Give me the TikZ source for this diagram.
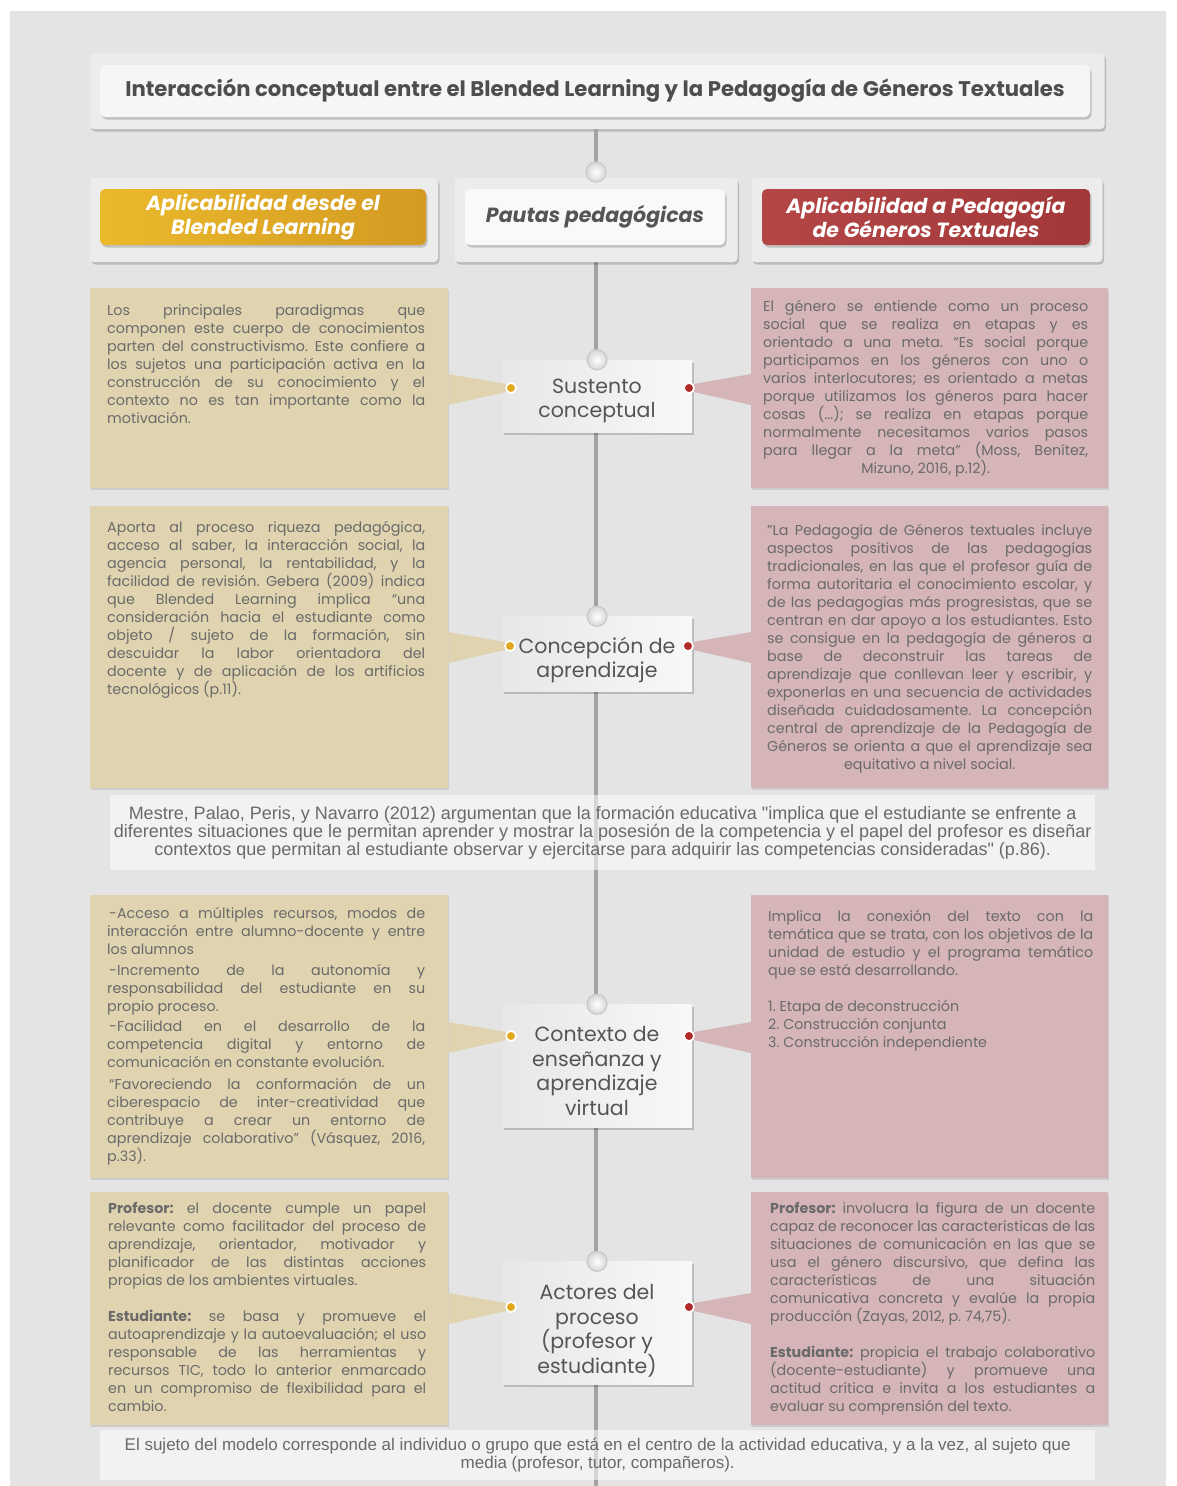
\documentclass[tikz,border=0pt]{standalone}
\usepackage{fontspec}
\setmainfont{Poppins}
\newfontfamily\condfont{Liberation Sans}
\usetikzlibrary{shadows,calc}

\definecolor{bg}{HTML}{E4E4E4}
\definecolor{panel}{HTML}{ECECEC}
\definecolor{spinegray}{HTML}{A3A3A3}
\definecolor{tanfill}{HTML}{E0D4B0}
\definecolor{rosefill}{HTML}{D5B5B8}
\definecolor{ink}{HTML}{6A6A6A}
\definecolor{titleink}{HTML}{4E4E4E}
\definecolor{stageink}{HTML}{555555}
\definecolor{goldA}{HTML}{EBB92C}
\definecolor{goldB}{HTML}{D49A22}
\definecolor{redA}{HTML}{B44646}
\definecolor{redB}{HTML}{A33838}
\definecolor{dotgold}{HTML}{E2A91E}
\definecolor{dotred}{HTML}{B22A2A}
\definecolor{stageL}{HTML}{E7E7E7}
\definecolor{stageR}{HTML}{F8F8F8}
\definecolor{junctionGray}{HTML}{D6D6D6}
\definecolor{junctionEdge}{HTML}{C9C9C9}

% one justified line, one plain line, one centred line
\newcommand{\jl}[1]{\makebox[\linewidth][s]{#1}\par}
\newcommand{\el}[1]{\mbox{#1}\par}
\newcommand{\cl}[1]{\makebox[\linewidth][c]{#1}\par}
\newcommand{\bodytext}{\fontsize{14.3}{18}\selectfont\frenchspacing\parindent=0pt\parskip=0pt}
\newcommand{\sq}{\char34}

\tikzset{
  softshadow/.style={drop shadow={shadow xshift=1.5pt, shadow yshift=-2.5pt, opacity=0.18, fill=black}},
  flatshadow/.style={drop shadow={shadow xshift=1pt, shadow yshift=-1.5pt, opacity=0.10, fill=black}},
  panelbox/.style={fill=panel, rounded corners=4pt, softshadow, inner sep=0},
  tanbox/.style={fill=tanfill, flatshadow, inner sep=0, anchor=north west, minimum width=358pt},
  rosebox/.style={fill=rosefill, flatshadow, inner sep=0, anchor=north west, minimum width=357pt},
  blocktext/.style={anchor=base west, inner sep=0, text=ink},
  headtext/.style={font=\fontsize{20.5}{24}\selectfont\bfseries\itshape, align=center, inner sep=0,
    minimum height=56pt, rounded corners=5pt, softshadow},
  stagebox/.style={left color=stageL, right color=stageR, softshadow, minimum width=190pt, inner sep=0},
  stagetext/.style={inner sep=0, align=center, text=stageink, font=\fontsize{20.5}{24.5}\selectfont},
  junction/.style={circle, minimum size=20pt, inner sep=0, shading=radial, inner color=white,
    outer color=junctionGray, draw=junctionEdge, line width=1.2pt},
  gdot/.style={circle, minimum size=10pt, inner sep=0, fill=dotgold, draw=white, line width=1.6pt},
  rdot/.style={circle, minimum size=10pt, inner sep=0, fill=dotred, draw=white, line width=1.6pt},
  notebox/.style={fill=white, fill opacity=0.55, text opacity=1, inner sep=0, anchor=north west},
  spine/.style={draw=spinegray, line width=4pt},
}

\begin{document}
\begin{tikzpicture}[x=1pt, y=-1pt]
\useasboundingbox (0,0) rectangle (1176,1486);
\fill[white] (0,0) rectangle (1176,1486);
\fill[bg] (10,11) rectangle (1166,1486);

% ---------- title ----------
\node[panelbox, minimum width=1015pt, minimum height=76pt] (titlePanel) at (597,91) {};
\node[fill=white!55!panel, rounded corners=6pt, softshadow, minimum width=990pt, minimum height=52pt,
      inner sep=0, text=titleink, font=\fontsize{21.2}{24}\selectfont\bfseries] (title) at (595,91)
  {Interacción conceptual entre el Blended Learning y la Pedagogía de Géneros Textuales};

% ---------- central spine ----------
\coordinate (spineEnd) at (596,1486);
\draw[spine] (titlePanel.south -| spineEnd) -- (spineEnd);

% ---------- column headers ----------
\node[panelbox, minimum width=348pt, minimum height=84pt] (hLpanel) at (264,220) {};
\node[panelbox, minimum width=283pt, minimum height=84pt] (hMpanel) at (596,220) {};
\node[panelbox, minimum width=351pt, minimum height=84pt] (hRpanel) at (927,220) {};
\node[headtext, left color=goldA, right color=goldB, text=white, minimum width=326pt] (hL) at (263,217)
  {Aplicabilidad desde el\\Blended Learning};
\node[headtext, fill=white!70!panel, text=stageink, minimum width=260pt] (hM) at (595,217)
  {Pautas pedagógicas};
\node[headtext, left color=redA, right color=redB, text=white, minimum width=328pt] (hR) at (926,217)
  {Aplicabilidad a Pedagogía\\de Géneros Textuales};
\node[junction] (j0) at (596,172) {};

% ---------- side boxes ----------
\node[tanbox, minimum height=200pt] (L1) at (90,288) {};
\node[tanbox, minimum height=282pt] (L2) at (90,506) {};
\node[tanbox, minimum height=283pt] (L3) at (90,895) {};
\node[tanbox, minimum height=233pt] (L4) at (90,1192) {};
\node[rosebox, minimum height=200pt] (R1) at (751,288) {};
\node[rosebox, minimum height=282pt] (R2) at (751,506) {};
\node[rosebox, minimum height=283pt] (R3) at (751,895) {};
\node[rosebox, minimum height=233pt] (R4) at (751,1192) {};

% ---------- central stages ----------
\node[stagebox, minimum height=72pt] (s1) at (597,396) {};
\node[stagebox, minimum height=75pt] (s2) at (597,654) {};
\node[stagebox, minimum height=123pt] (s3) at (597,1066) {};
\node[stagebox, minimum height=123pt] (s4) at (597,1323) {};
\node[stagetext] (s1t) at ($(s1.center)+(0,5)$) {Sustento\\conceptual};
\node[stagetext] (s2t) at ($(s2.center)+(0,6)$) {Concepción de\\aprendizaje};
\node[stagetext] (s3t) at ($(s3.center)+(0,5)$) {Contexto de\\enseñanza y\\aprendizaje\\virtual};
\node[stagetext] (s4t) at ($(s4.center)+(0,8)$) {Actores del\\proceso\\(profesor y\\estudiante)};

\foreach \s in {1,2,3,4} \node[junction] (j\s) at (s\s.north) {};

% ---------- dots ----------
\node[gdot] (dL1) at (511,388) {};
\node[rdot] (dR1) at (689,388) {};
\node[gdot] (dL2) at (510,646) {};
\node[rdot] (dR2) at (688,646) {};
\node[gdot] (dL3) at (511,1036) {};
\node[rdot] (dR3) at (689,1036) {};
\node[gdot] (dL4) at (511,1307) {};
\node[rdot] (dR4) at (689,1307) {};

% ---------- callout wedges ----------
\foreach \i in {1,2,3,4} {
  \fill[tanfill] ($(L\i.east |- dL\i)+(0,-14)$) -- ($(dL\i)+(-5,-4)$) -- ($(dL\i)+(-5,4)$) -- ($(L\i.east |- dL\i)+(0,17)$) -- cycle;
  \fill[rosefill] ($(R\i.west |- dR\i)+(0,-14)$) -- ($(dR\i)+(5,-4)$) -- ($(dR\i)+(5,4)$) -- ($(R\i.west |- dR\i)+(0,17)$) -- cycle;
}
\foreach \i in {1,2,3,4} {
  \node[gdot] at (dL\i) {};
  \node[rdot] at (dR\i) {};
}

% ---------- side texts ----------
\node[blocktext] (tL1) at (107,315) {\parbox[t]{318pt}{\bodytext
\jl{Los principales paradigmas que}
\jl{componen este cuerpo de conocimientos}
\jl{parten del constructivismo. Este confiere a}
\jl{los sujetos una participación activa en la}
\jl{construcción de su conocimiento y el}
\jl{contexto no es tan importante como la}
\el{motivación.}}};

\node[blocktext] (tR1) at (763,311) {\parbox[t]{325pt}{\bodytext
\jl{El género se entiende como un proceso}
\jl{social que se realiza en etapas y es}
\jl{orientado a una meta. “Es social porque}
\jl{participamos en los géneros con uno o}
\jl{varios interlocutores; es orientado a metas}
\jl{porque utilizamos los géneros para hacer}
\jl{cosas (...); se realiza en etapas porque}
\jl{normalmente necesitamos varios pasos}
\jl{para llegar a la meta” (Moss, Benítez,}
\cl{Mizuno, 2016, p.12).}}};

\node[blocktext] (tL2) at (107,532) {\parbox[t]{318pt}{\bodytext
\jl{Aporta al proceso riqueza pedagógica,}
\jl{acceso al saber, la interacción social, la}
\jl{agencia personal, la rentabilidad, y la}
\jl{facilidad de revisión. Gebera (2009) indica}
\jl{que Blended Learning implica “una}
\jl{consideración hacia el estudiante como}
\jl{objeto / sujeto de la formación, sin}
\jl{descuidar la labor orientadora del}
\jl{docente y de aplicación de los artificios}
\el{tecnológicos (p.11).}}};

\node[blocktext] (tR2) at (767,535) {\parbox[t]{325pt}{\bodytext
\jl{\sq La Pedagogía de Géneros textuales incluye}
\jl{aspectos positivos de las pedagogías}
\jl{tradicionales, en las que el profesor guía de}
\jl{forma autoritaria el conocimiento escolar, y}
\jl{de las pedagogías más progresistas, que se}
\jl{centran en dar apoyo a los estudiantes. Esto}
\jl{se consigue en la pedagogía de géneros a}
\jl{base de deconstruir las tareas de}
\jl{aprendizaje que conllevan leer y escribir, y}
\jl{exponerlas en una secuencia de actividades}
\jl{diseñada cuidadosamente. La concepción}
\jl{central de aprendizaje de la Pedagogía de}
\jl{Géneros se orienta a que el aprendizaje sea}
\cl{equitativo a nivel social.}}};

\node[blocktext] (tL3) at (107,918) {\parbox[t]{318pt}{\bodytext
\jl{\hspace{2pt}-Acceso a múltiples recursos, modos de}
\jl{interacción entre alumno-docente y entre}
\el{los alumnos}\vspace{3pt}
\jl{\hspace{2pt}-Incremento de la autonomía y}
\jl{responsabilidad del estudiante en su}
\el{propio proceso.}\vspace{2pt}
\jl{\hspace{2pt}-Facilidad en el desarrollo de la}
\jl{competencia digital y entorno de}
\el{comunicación en constante evolución.}\vspace{4pt}
\jl{\hspace{2pt}“Favoreciendo la conformación de un}
\jl{ciberespacio de inter-creatividad que}
\jl{contribuye a crear un entorno de}
\jl{aprendizaje colaborativo” (Vásquez, 2016,}
\el{p.33).}}};

\node[blocktext] (tR3) at (768,921) {\parbox[t]{325pt}{\bodytext
\jl{Implica la conexión del texto con la}
\jl{temática que se trata, con los objetivos de la}
\jl{unidad de estudio y el programa temático}
\el{que se está desarrollando.}\vspace{18pt}
\el{1. Etapa de deconstrucción}
\el{2. Construcción conjunta}
\el{3. Construcción independiente}}};

\node[blocktext] (tL4) at (108,1213) {\parbox[t]{318pt}{\bodytext
\jl{\textbf{Profesor:} el docente cumple un papel}
\jl{relevante como facilitador del proceso de}
\jl{aprendizaje, orientador, motivador y}
\jl{planificador de las distintas acciones}
\el{propias de los ambientes virtuales.}\vspace{18pt}
\jl{\textbf{Estudiante:} se basa y promueve el}
\jl{autoaprendizaje y la autoevaluación; el uso}
\jl{responsable de las herramientas y}
\jl{recursos TIC, todo lo anterior enmarcado}
\jl{en un compromiso de flexibilidad para el}
\el{cambio.}}};

\node[blocktext] (tR4) at (770,1213) {\parbox[t]{325pt}{\bodytext
\jl{\textbf{Profesor:} involucra la figura de un docente}
\jl{capaz de reconocer las características de las}
\jl{situaciones de comunicación en las que se}
\jl{usa el género discursivo, que defina las}
\jl{características de una situación}
\jl{comunicativa concreta y evalúe la propia}
\el{producción (Zayas, 2012, p. 74,75).}\vspace{18pt}
\jl{\textbf{Estudiante:} propicia el trabajo colaborativo}
\jl{(docente-estudiante) y promueve una}
\jl{actitud crítica e invita a los estudiantes a}
\el{evaluar su comprensión del texto.}}};

% ---------- notes spanning both columns ----------
\node[notebox, minimum width=985pt, minimum height=75pt] (note1) at (110,795) {};
\node[align=center, text=ink, inner sep=0, font=\condfont\fontsize{18}{18}\selectfont] (note1text) at (note1.center)
  {Mestre, Palao, Peris, y Navarro (2012) argumentan que la formación educativa \sq implica que el estudiante se enfrente a\\
   diferentes situaciones que le permitan aprender y mostrar la posesión de la competencia y el papel del profesor es diseñar\\
   contextos que permitan al estudiante observar y ejercitarse para adquirir las competencias consideradas\sq\ (p.86).};

\node[notebox, minimum width=995pt, minimum height=50pt] (note2) at (100,1430) {};
\node[align=center, text=ink, inner sep=0, font=\condfont\fontsize{17}{18}\selectfont] (note2text) at (note2.center)
  {El sujeto del modelo corresponde al individuo o grupo que está en el centro de la actividad educativa, y a la vez, al sujeto que\\
   media (profesor, tutor, compañeros).};
\end{tikzpicture}
\end{document}
